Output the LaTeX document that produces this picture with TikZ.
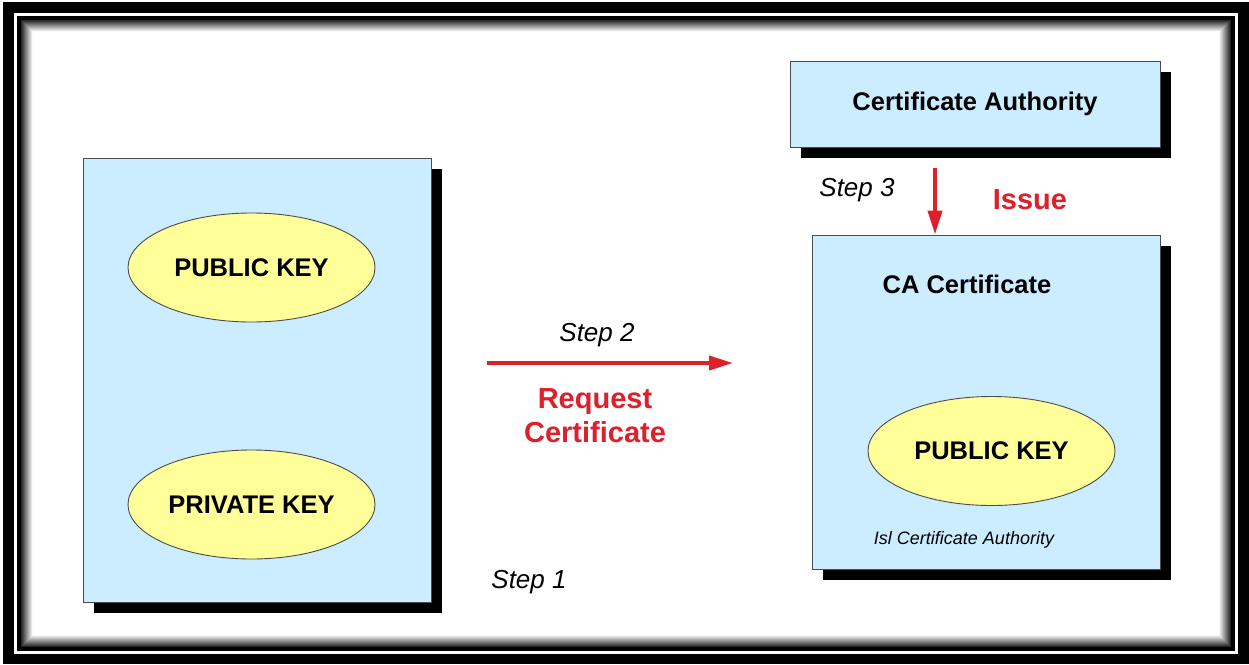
\documentclass[tikz,border=0pt]{standalone}
\usepackage{fontspec}
\setmainfont{Liberation Sans}
\usetikzlibrary{arrows.meta,shapes.geometric,shadows}

\definecolor{paneblue}{RGB}{204,236,255}
\definecolor{keyyellow}{RGB}{255,255,153}
\definecolor{arrowred}{RGB}{220,32,44}

\begin{document}
\begin{tikzpicture}[x=1pt,y=-1pt,
  panel/.style={draw=black!70,line width=0.9pt,fill=paneblue,inner sep=0pt,
    drop shadow={shadow xshift=11pt,shadow yshift=-11pt,fill=black,opacity=1}},
  keyoval/.style={ellipse,draw=black!70,line width=0.9pt,fill=keyyellow,
    minimum width=247pt,minimum height=109pt,inner sep=0pt,
    font=\bfseries\fontsize{25.5}{30}\selectfont},
  boldlabel/.style={inner sep=0pt,font=\bfseries\fontsize{25.5}{30}\selectfont},
  steplabel/.style={inner sep=0pt,font=\itshape\fontsize{26}{30}\selectfont},
  redlabel/.style={inner sep=0pt,text=arrowred,align=center,
    font=\bfseries\fontsize{29}{34}\selectfont},
  signlabel/.style={inner sep=0pt,font=\itshape\fontsize{18}{22}\selectfont},
  redarrow/.style={draw=arrowred,line width=4pt,
    -{Triangle[length=24pt,width=14pt]}}
]
\useasboundingbox (0,0) rectangle (1249,664);

% double frame with a soft inner shadow
\fill[white] (0,0) rectangle (1249,664);
\fill[black] (3,2) rectangle (1249,664);
\fill[white] (14,13) rectangle (1238,654);
\fill[black] (17,16) rectangle (1235,651);
\foreach \i [evaluate=\i as \c using 15+7.5*\i] in {0,...,11}
  \fill[white!\c!black] (21+\i,20+\i) rectangle (1231-\i,647-\i);
\fill[white] (33,32) rectangle (1219,635);

% requester with its key pair
\node[panel,minimum width=348pt,minimum height=444pt] (lbox) at (257,380) {};
\node[keyoval] (pubkey) at (251.5,267.5) {PUBLIC KEY};
\node[keyoval] (privkey) at (251.5,504.5) {PRIVATE KEY};

% certificate authority
\node[panel,minimum width=370pt,minimum height=86pt,
  font=\bfseries\fontsize{25.5}{30}\selectfont] (cabox) at (975,104)
  {Certificate Authority};

% issued certificate
\node[panel,minimum width=348pt,minimum height=334pt] (certbox) at (986,402) {};
\node[boldlabel] (certtitle) at (967,284) {CA Certificate};
\node[keyoval] (certkey) at (991.5,451) {PUBLIC KEY};
\node[signlabel] (sign) at (964,540) {Isl Certificate Authority};

% step labels
\node[steplabel] (step1) at (529,582) {Step 1};
\node[steplabel] (step2) at (597,335) {Step 2};
\node[steplabel] (step3) at (857,190) {Step 3};

% request arrow
\coordinate (reqstart) at (487,363);
\coordinate (reqend) at (733,363);
\draw[redarrow] (reqstart) -- (reqend);
\node[redlabel] (reqlabel) at (595,416) {Request\\Certificate};

% issue arrow
\coordinate (issuestart) at (935,168);
\draw[redarrow] (issuestart) -- (issuestart |- certbox.north);
\node[redlabel] (issuelabel) at (1030,200) {Issue};
\end{tikzpicture}
\end{document}
